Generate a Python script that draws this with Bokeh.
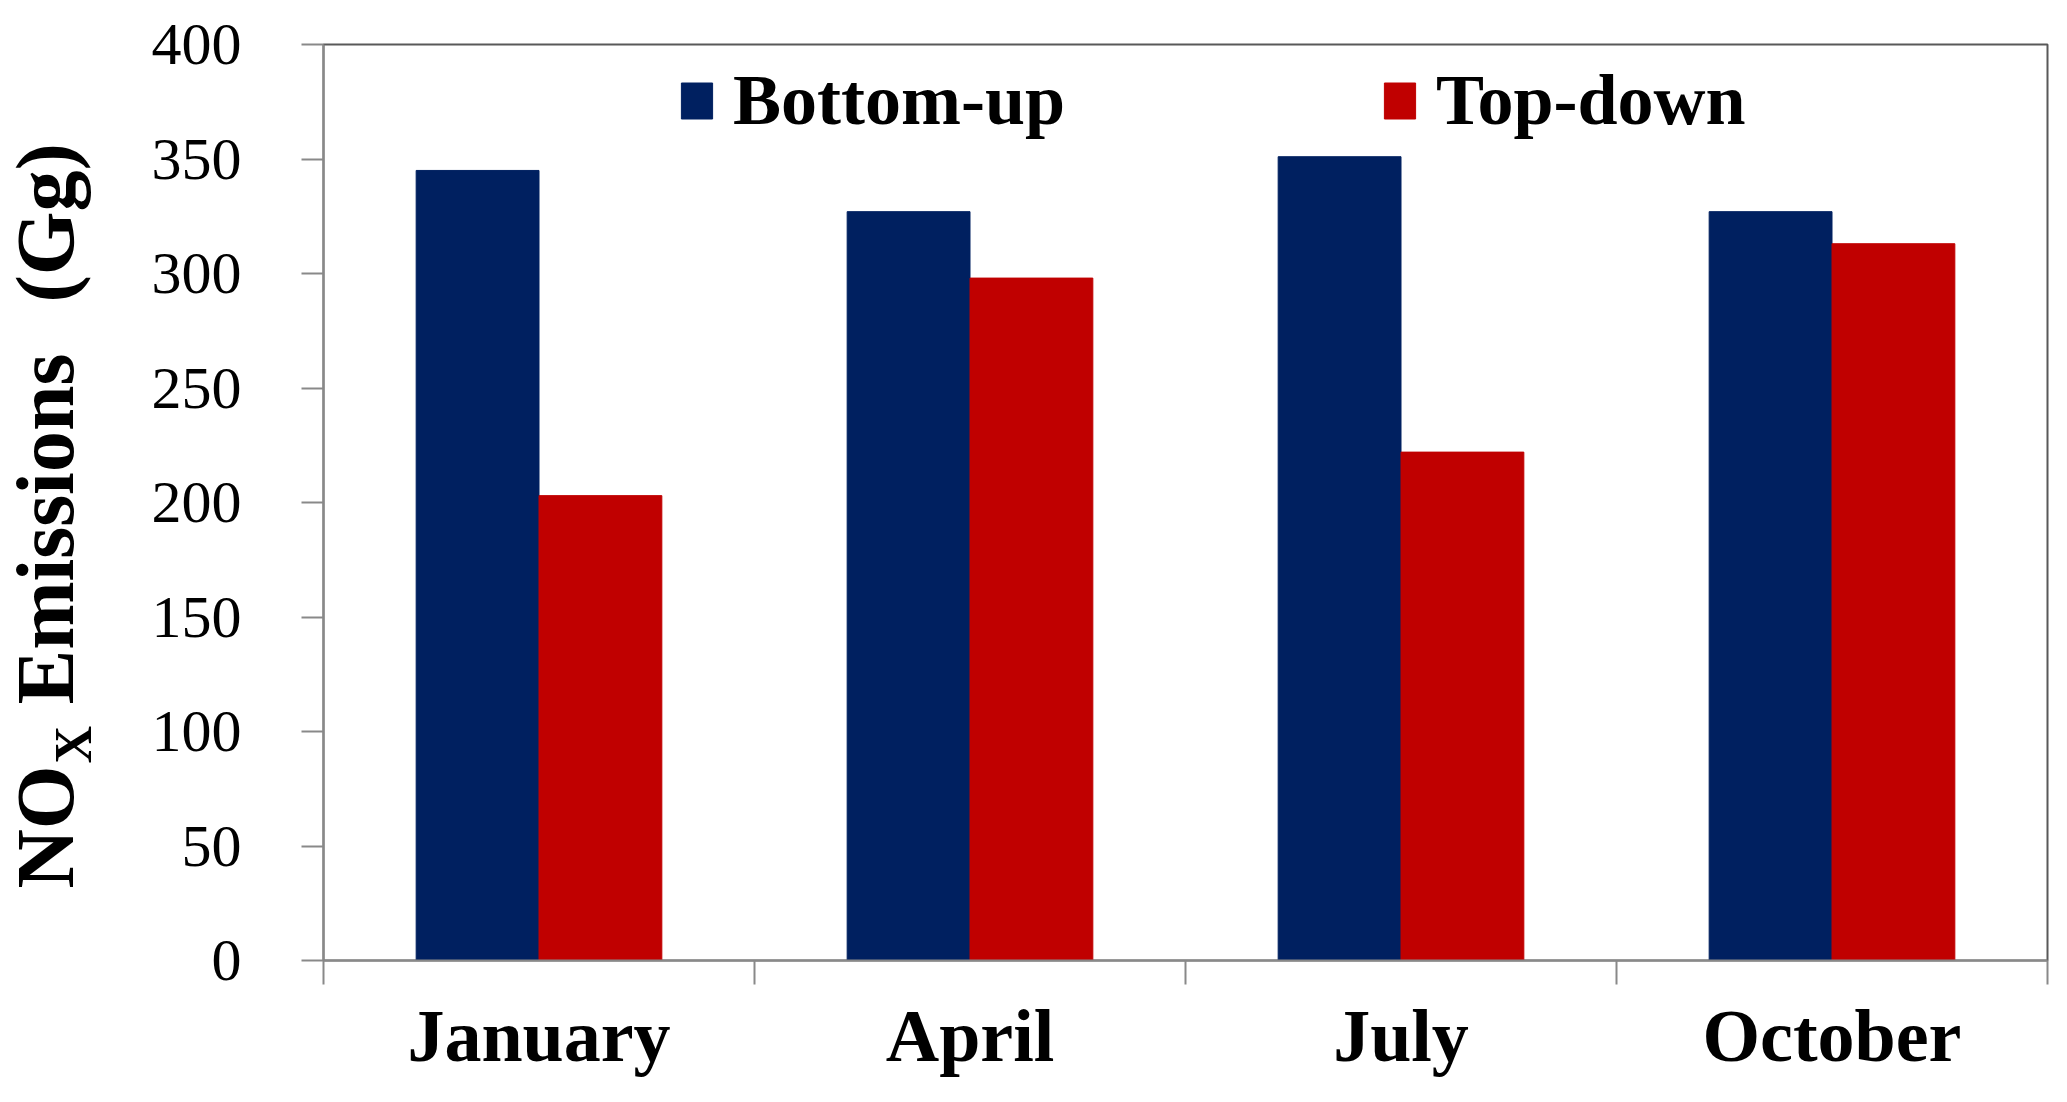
import numpy as np
from math import pi
from bokeh.plotting import figure
from bokeh.layouts import row
from bokeh.models import Range1d, FixedTicker, Legend, LegendItem, ColumnDataSource
from bokeh.core.properties import value
from bokeh.embed import file_html
from bokeh.resources import INLINE

months = ["January", "April", "July", "October"]
bottom_up = [345, 327, 351, 327]
top_down = [203, 298, 222, 313]
y_ticks = [0, 50, 100, 150, 200, 250, 300, 350, 400]

BLUE = "#002060"
RED = "#C00000"
FONT = "Liberation Serif"
W, H = 2051, 1086
TITLE_W = 110
TOP, BOTTOM = 44, 126

centers = np.arange(len(months)) + 0.5
bw = 0.285
src = ColumnDataSource(dict(xb=centers - bw / 2, xt=centers + bw / 2,
                            bu=bottom_up, td=top_down))

p = figure(width=W - TITLE_W, height=H, output_backend="svg", toolbar_location=None,
           x_range=Range1d(0, len(months)), y_range=Range1d(0, 400),
           min_border_left=323 - TITLE_W, min_border_right=4, min_border_top=TOP,
           min_border_bottom=BOTTOM)

r1 = p.vbar(x="xb", top="bu", width=bw, source=src, fill_color=BLUE, line_color=BLUE)
r2 = p.vbar(x="xt", top="td", width=bw, source=src, fill_color=RED, line_color=RED)

p.xgrid.visible = False
p.ygrid.visible = False
p.outline_line_color = "#595959"
p.outline_line_width = 2

# x axis: labels at centres, ticks at category boundaries
p.xaxis.ticker = FixedTicker(ticks=list(centers), minor_ticks=list(range(len(months) + 1)))
p.xaxis.major_label_overrides = {float(c): m for c, m in zip(centers, months)}
p.xaxis.major_tick_out = 0
p.xaxis.major_tick_in = 0
p.xaxis.minor_tick_out = 24
p.xaxis.minor_tick_in = 0
p.xaxis.minor_tick_line_color = "#898989"
p.xaxis.minor_tick_line_width = 2
p.xaxis.axis_line_color = "#898989"
p.xaxis.axis_line_width = 2
p.xaxis.major_label_text_font = FONT
p.xaxis.major_label_text_font_style = "bold"
p.xaxis.major_label_text_font_size = "74px"
p.xaxis.major_label_text_color = "black"
p.xaxis.major_label_standoff = 10

# y axis
p.yaxis.ticker = FixedTicker(ticks=y_ticks)
p.yaxis.major_tick_out = 22
p.yaxis.major_tick_in = 0
p.yaxis.minor_tick_out = 0
p.yaxis.minor_tick_in = 0
p.yaxis.major_tick_line_color = "#898989"
p.yaxis.major_tick_line_width = 2
p.yaxis.axis_line_color = "#898989"
p.yaxis.axis_line_width = 2
p.yaxis.major_label_text_font = FONT
p.yaxis.major_label_text_font_size = "60px"
p.yaxis.major_label_text_color = "black"
p.yaxis.major_label_standoff = 60

legend = Legend(items=[LegendItem(label="Bottom-up", renderers=[r1]),
                       LegendItem(label="Top-down", renderers=[r2])],
                orientation="horizontal", location=(354, 818),
                glyph_width=39, glyph_height=45, label_standoff=17, spacing=315,
                padding=0, margin=0, border_line_color=None, background_fill_alpha=0,
                label_text_font=FONT, label_text_font_style="bold",
                label_text_font_size="72px", label_text_color="black")
p.add_layout(legend, "center")

# y-axis title panel (NO with subscript X), drawn as rotated text;
# its coordinates are page pixels (y measured upward from the bottom)
t = figure(width=TITLE_W, height=H, output_backend="svg", toolbar_location=None,
           x_range=Range1d(0, TITLE_W), y_range=Range1d(BOTTOM, H - TOP),
           x_axis_location=None, y_axis_location=None,
           min_border_left=0, min_border_right=0, min_border_top=TOP,
           min_border_bottom=BOTTOM, outline_line_color=None)
t.grid.visible = False
common = dict(angle=pi / 2, text_font=value(FONT), text_font_style="bold",
              text_color="black", text_align="left", text_baseline="alphabetic")
t.text(x=[45], y=[H - 888], text=["NO"], text_font_size="82px", **common)
t.text(x=[73], y=[H - 763], text=["X"], text_font_size="52px", **common)
t.text(x=[45], y=[H - 704], text=["Emissions"], text_font_size="82px", **common)
t.text(x=[45], y=[H - 302], text=["(Gg)"], text_font_size="82px", **common)

layout = row(t, p, spacing=0)
open("out.html", "w").write(file_html(layout, INLINE))
